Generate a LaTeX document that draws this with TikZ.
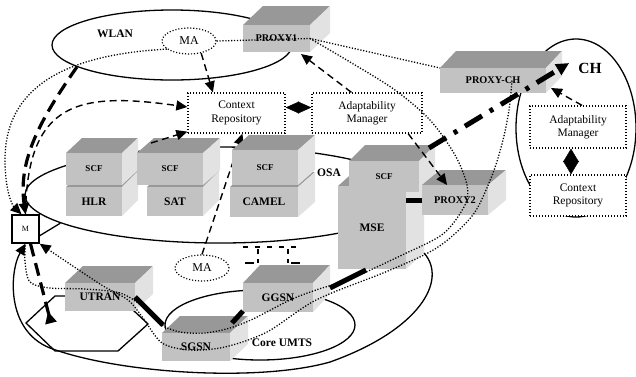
\documentclass[tikz,border=0pt]{standalone}
\usepackage{fontspec}
\setmainfont{Liberation Serif}
\usetikzlibrary{arrows.meta,calc,shapes.geometric}

\definecolor{topgray}{RGB}{152,152,152}
\definecolor{frontgray}{RGB}{194,194,194}
\definecolor{sidegray}{RGB}{226,226,226}

\newcommand\fsz[1]{\fontsize{#1}{#1}\selectfont}

% 3-D block: name, front face x1 y1 x2 y2, depth dx dy, font, label
\newcommand\slab[9]{%
  \fill[topface] (#2,#3) -- ++(#6,-#7) -- ({#4+#6},{#3-#7}) -- (#4,#3) -- cycle;
  \fill[sideface] (#4,#3) -- ({#4+#6},{#3-#7}) -- ({#4+#6},{#5-#7}) -- (#4,#5) -- cycle;
  \node[frontface, minimum width={(#4-#2)*1pt}, minimum height={(#5-#3)*1pt}, font=#8]
    (#1) at ({(#2+#4)/2},{(#3+#5)/2}) {#9};
}

\tikzset{
  netzone/.style={ellipse, draw, line width=1.3pt, inner sep=0pt},
  solidline/.style={draw, line width=1.3pt},
  frontface/.style={fill=frontgray, inner sep=0pt, outer sep=0pt, align=center},
  topface/.style={fill=topgray},
  sideface/.style={fill=sidegray},
  dotbox/.style={draw, line width=1.3pt, dash pattern=on 1.2pt off 1.8pt, fill=white,
    align=center, inner sep=0pt, font=\fontsize{11.5}{13.3}\selectfont},
  maell/.style={ellipse, draw, line width=1.2pt, dash pattern=on 1.1pt off 1.9pt,
    fill=white, inner sep=0pt, font=\fsz{12}},
  mbox/.style={draw, line width=1.4pt, fill=white, inner sep=0pt,
    minimum width=27pt, minimum height=28pt, font=\fsz{8}},
  zonelabel/.style={font=\bfseries\fsz{11.5}, inner sep=0pt},
  dotline/.style={line width=1.3pt, dash pattern=on 1.2pt off 1.7pt},
  dashline/.style={line width=1.4pt, dash pattern=on 7pt off 4.5pt},
  bigdash/.style={line width=3.2pt, dash pattern=on 13pt off 7pt},
  dashdot/.style={line width=5pt, dash pattern=on 20pt off 9pt on 4pt off 9pt},
  hardlink/.style={line width=5pt},
  endtip/.style={-{Triangle[length=11pt,width=10pt]}},
}

\begin{document}
\begin{tikzpicture}[x=1pt,y=-1pt]
\useasboundingbox (0,0) rectangle (636,376);

% network domains
\node[netzone, minimum width=240pt, minimum height=70pt] (wlan) at (172,45) {};
\node[netzone, minimum width=390pt, minimum height=96pt] (osa) at (220,195) {};
\node[netzone, minimum width=190pt, minimum height=70pt] (core) at (260,325) {};
\node[netzone, minimum width=120pt, minimum height=178pt] (ch) at (576,128) {};

% radio cell
\draw[solidline, fill=white] (55,296) -- (118,296) -- (148,324) -- (118,351) -- (55,351) -- (26,323) -- cycle;
\coordinate (cell) at (51,323);

% repositories and managers
\node[dotbox, minimum width=97pt, minimum height=40pt] (cr) at (236.5,113) {Context\\Repository};
\node[dotbox, minimum width=110pt, minimum height=40pt] (am) at (367,113) {Adaptability\\Manager};
\node[dotbox, minimum width=96pt, minimum height=42pt] (amr) at (578,127) {Adaptability\\Manager};
\node[dotbox, minimum width=96pt, minimum height=41pt] (crr) at (578,195.5) {Context\\Repository};

% mobility agents
\node[maell, minimum width=54pt, minimum height=26pt] (ma1) at (189,41) {MA};
\node[maell, minimum width=54pt, minimum height=26pt] (ma2) at (202,268) {MA};

% flow that passes behind the CAMEL column
\draw[dashline, endtip] (ma2.north) -- ($(cr.south west)!0.56!(cr.south east)$);

% blocks
\slab{proxy1}{243}{25}{310}{52}{20}{19}{\bfseries\fsz{10.3}}{PROXY1}
\slab{proxych}{440}{68}{546}{93}{16}{17}{\bfseries\fsz{10.3}}{PROXY-CH}
\slab{hlr}{66}{187}{122}{216}{16}{16}{\bfseries\fsz{11.5}}{HLR}
\slab{scf1}{66}{153}{122}{185}{16}{15}{\bfseries\fsz{9}}{SCF}
\slab{sat}{147}{187}{203}{216}{16}{16}{\bfseries\fsz{11.5}}{SAT}
\slab{scf2}{137}{153}{203}{185}{17}{15}{\bfseries\fsz{9}}{SCF}
\slab{camel}{230}{187}{298}{217}{17}{15}{\bfseries\fsz{11.5}}{CAMEL}
\slab{scf3}{232}{150}{298}{185}{17}{15}{\bfseries\fsz{9}}{SCF}
\slab{mse}{338}{186}{406}{269}{18}{16}{\bfseries\fsz{11.5}}{MSE}
\slab{scf4}{349}{161}{419}{192}{16}{16}{\bfseries\fsz{9}}{SCF}
\slab{proxy2}{422}{185}{488}{215}{18}{15}{\bfseries\fsz{10.3}}{PROXY2}
\slab{utran}{65}{283}{135}{311}{18}{17}{\bfseries\fsz{11.5}}{UTRAN}
\slab{ggsn}{243}{283}{313}{312}{17}{18}{\bfseries\fsz{11.5}}{GGSN}
\slab{sgsn}{162}{333}{230}{361}{18}{17}{\bfseries\fsz{11.5}}{SGSN}

% mobile terminal
\node[mbox] (m) at (25.5,229) {M};

% domain labels
\node[zonelabel] (wlanlbl) at (115,34) {WLAN};
\node[zonelabel] (osalbl) at (329,173) {OSA};
\node[zonelabel] (corelbl) at (282,343) {Core UMTS};
\node[font=\bfseries\fsz{15.5}, inner sep=0pt] (chlbl) at (590,68) {CH};

% signalling stub above GGSN
\draw[line width=1.2pt, dash pattern=on 5pt off 7pt] (243,247) -- (302,247);
\draw[line width=1.2pt, dash pattern=on 5pt off 5pt] (258,249) -- (258,263) (288,249) -- (288,263);
\draw[line width=1.2pt] (245,263) -- (254,263) (291,263) -- (300,263);

% physical links
\draw[solidline] ($(m.south east)+(0,-8)$) -- (osa.190);
\draw[hardlink] (utran.east) -- ($(sgsn.north west)+(1,-8)$);
\draw[hardlink] ($(sgsn.north east)+(2,-10)$) -- ($(ggsn.south west)+(0,-1)$);
\draw[hardlink] ($(ggsn.north east)+(17,5)$) -- ($(mse.south west)+(28,1)$);
\draw[hardlink] (proxy2.west) -- (mse.east |- proxy2.west);

% handover path back to the terminal
\draw[solidline, endtip] ($(mse.south east)+(18,-16)$) .. controls (448,280) and (420,330) .. (330,362)
  .. controls (260,382) and (120,374) .. (50,348) .. controls (5,330) and (10,270) .. (m.south);

% context and adaptation flows
\draw[dashline, endtip] (ma1.-45) -- ($(cr.north west)!0.26!(cr.north east)$);
\draw[dashline, endtip] ($(am.north west)!0.36!(am.north east)$) -- ($(proxy1.south east)+(-9,2)$);
\draw[dashline, endtip] ($(am.south west)!0.87!(am.south east)$) -- ($(proxy2.north west)!0.38!(proxy2.north east)$);
\draw[dashline, endtip] ($(amr.north)+(4,0)$) -- ($(proxych.south east)+(5,-5)$);
\draw[dashline, endtip] ($(scf2.north west)+(14,-10)$) -- ($(cr.south west)+(0,-2)$);
\draw[dashline, endtip] (m.north) .. controls (27,100) and (80,92) .. ($(cr.west)+(0,-6)$);

% repository <-> manager exchanges
\draw[{Triangle[length=13.5pt,width=12pt]}-{Triangle[length=13.5pt,width=12pt]}, line width=0.4pt]
  ($(cr.east)+(0,-5.5)$) -- ($(am.west)+(0,-5.5)$);
\draw[{Triangle[length=13.5pt,width=16pt]}-{Triangle[length=13.5pt,width=16pt]}, line width=0.4pt]
  ($(amr.south)+(-7,0)$) -- ($(crr.north)+(-7,0)$);

% terminal mobility
\draw[bigdash, endtip] (wlan.193) .. controls (40,120) and (18,160) .. (m.north);
\draw[bigdash, -{Triangle[length=12pt,width=11pt,reversed]}] ($(m.south)+(5,0)$) -- (cell);

% adaptation towards the correspondent host
\draw[dashdot, -{Triangle[length=13pt,width=12pt]}] ($(scf4.north east)+(10,-13)$) -- ($(chlbl.west)+(-9,-5)$);

% data paths
\draw[dotline, endtip] (ma1.200) .. controls (60,55) and (5,90) .. (5,160)
  .. controls (5,190) and (12,205) .. ($(m.north)+(-4,0)$);
\draw[dotline] (ma1.east) -- (proxy1.east) -- (proxych.north west);
\draw[dotline] plot[smooth] coordinates {(proxy1.east) (350,62) (395,90) (430,120) (455,155)
  (467,185) (465,205) (443,234) (400,256) (350,279) (316,290) (290,300) (253,319) (230,328)
  (205,333) (180,332) (160,324) (142,306) (120,293) (85,289) (50,288) (30,282) (25,262) (m.south)};
\draw[dotline, endtip] plot[smooth] coordinates {($(proxych.center)+(19,0)$) (509,110) (503,140)
  (493,173) (475,212) (450,238) (426,254) (383,273) (316,300) (267,332) (225,347) (190,350)
  (162,343) (143,318) (128,300) (100,284) (m.south east)};
\end{tikzpicture}
\end{document}
